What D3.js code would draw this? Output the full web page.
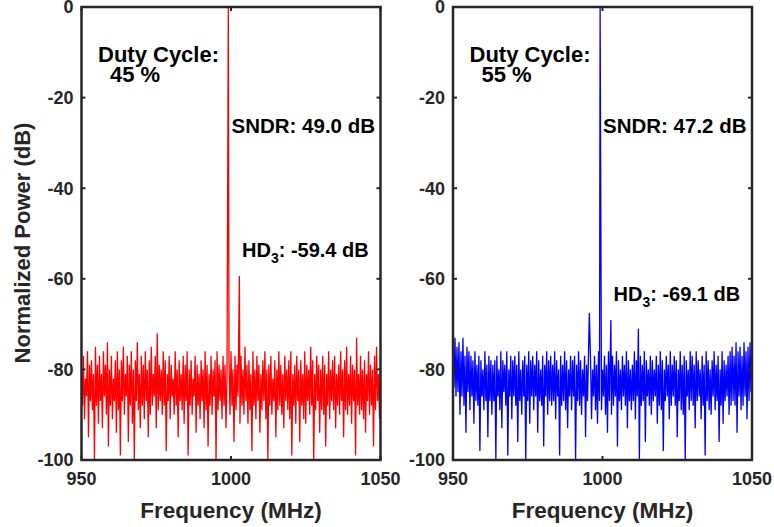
<!DOCTYPE html>
<html>
<head>
<meta charset="utf-8">
<script src="https://cdn.jsdelivr.net/npm/d3@7"></script>
<style>
  body { margin: 0; background: #fff; }
  svg { display: block; }
</style>
</head>
<body>
<div id="plot"></div>
<script>
var TEXTFONT = 'Liberation Sans, Arial, Helvetica, sans-serif';
var INK = '#262626';

// frequency grid of the FFT bins (MHz)
var F_START = 950;
var F_STEP = 1 / 3;

var xTicks = [950, 1000, 1050];
var yTicks = [0, -20, -40, -60, -80, -100];

// noise floor, 45 % duty cycle (dB)
var noise45 = [
  -80,-88,-77,-91,-82,-86,-76,-95,-79,-87,-78,-89,-81,-100,-75,-88,-79,-92,-77,-87,
  -81,-93,-76,-86,-79,-90,-74,-97,-80,-88,-77,-91,-82,-87,-78,-94,-76,-89,-80,-99,
  -78,-87,-75,-90,-81,-86,-77,-96,-79,-88,-76,-92,-80,-100,-78,-87,-74,-89,-81,-93,
  -77,-88,-79,-91,-76,-87,-80,-95,-78,-90,-75,-88,-81,-86,-77,-93,-72,-89,-79,-87,
  -80,-90,-76,-88,-78,-98,-81,-87,-77,-91,-79,-86,-82,-90,-76,-88,-80,-95,-78,-87,
  -81,-89,-77,-92,-79,-87,-76,-99,-80,-88,-78,-90,-82,-86,-77,-94,-79,-88,-81,-91,
  -78,-87,-80,-93,-76,-89,-79,-97,-81,-88,-77,-90,-80,-86,-78,-100,-76,-89,-79,-87,
  -80,-91,-77,-88,-79,-93,-81,-87,-78,-90,-76,-88,-80,-96,-77,-89,-79,-86,-81,-92,
  -77,-88,-80,-90,-75,-87,-79,-92,-78,-89,-81,-98,-76,-88,-80,-91,-77,-87,-79,-94,
  -81,-89,-78,-87,-76,-91,-80,-100,-79,-88,-77,-90,-82,-87,-78,-95,-80,-89,-76,-88,
  -79,-90,-81,-93,-77,-87,-80,-89,-78,-91,-76,-99,-81,-88,-79,-92,-77,-87,-80,-96,
  -78,-88,-81,-91,-76,-92,-79,-87,-80,-90,-75,-88,-78,-100,-81,-89,-77,-87,-79,-94,
  -80,-89,-77,-90,-79,-97,-81,-88,-76,-91,-80,-87,-78,-89,-77,-93,-81,-88,-79,-90,
  -76,-87,-80,-95,-78,-89,-75,-90,-81,-88,-77,-92,-79,-87,-80,-99,-73,-88,-81,-90,
  -77,-89,-80,-91,-78,-94,-81,-87,-76,-90,-79,-88,-80,-97,-77,-89,-75,-87,-81,-91,
  -79
];

// noise floor, 55 % duty cycle (dB)
var noise55 = [
  -74,-84,-73,-86,-75,-85,-74,-90,-76,-86,-73,-88,-77,-94,-75,-85,-76,-89,-77,-86,
  -78,-92,-76,-87,-79,-88,-77,-98,-78,-86,-80,-89,-76,-87,-79,-95,-77,-87,-78,-90,
  -79,-87,-78,-100,-77,-86,-80,-89,-76,-93,-78,-85,-79,-88,-76,-99,-80,-86,-77,-91,
  -78,-86,-77,-88,-79,-96,-76,-87,-80,-90,-78,-86,-77,-100,-79,-87,-76,-92,-78,-86,
  -77,-89,-79,-86,-76,-94,-78,-87,-80,-88,-77,-97,-79,-86,-76,-90,-78,-87,-77,-88,
  -79,-87,-76,-91,-78,-86,-80,-99,-77,-88,-79,-87,-76,-89,-78,-93,-80,-86,-77,-89,
  -78,-86,-77,-100,-79,-87,-76,-88,-78,-90,-80,-86,-77,-95,-79,-87,-76,-88,-78,-91,
  -80,-86,-77,-89,-79,-92,-76,-87,-78,-89,-80,-86,-77,-90,-79,-94,-76,-87,-78,-90,
  -77,-88,-79,-86,-76,-97,-78,-87,-80,-89,-77,-86,-79,-88,-76,-93,-78,-87,-80,-89,
  -79,-87,-76,-91,-78,-86,-71,-100,-77,-88,-79,-87,-76,-96,-78,-86,-80,-88,-77,-90,
  -78,-87,-80,-86,-77,-92,-79,-88,-76,-89,-78,-98,-80,-87,-77,-86,-79,-91,-76,-88,
  -79,-86,-77,-88,-78,-95,-80,-87,-76,-89,-79,-90,-77,-100,-78,-86,-80,-89,-76,-87,
  -77,-88,-79,-93,-76,-87,-78,-86,-80,-91,-77,-88,-79,-99,-76,-87,-78,-89,-80,-90,
  -78,-86,-76,-89,-79,-87,-77,-96,-80,-88,-76,-92,-78,-87,-79,-86,-77,-90,-76,-88,
  -75,-87,-77,-88,-74,-94,-76,-86,-75,-89,-77,-88,-74,-86,-76,-91,-75,-87,-74,-85,
  -76
];

// tones sitting on top of the noise: carrier and spurs
var tones45 = [ { 'f' : 999.1, 'p' : 0 }, { 'f' : 1002.8, 'p' : -59.4 } ];
var tones55 = [ { 'f' : 995.6, 'p' : -67.5 }, { 'f' : 999.2, 'p' : 0 }, { 'f' : 1002.8, 'p' : -69.1 } ];

var PANELS = [
  { 'left' : 81.5, 'right' : 380.5, 'noise' : noise45, 'tones' : tones45, 'color' : '#ff0000',
    'duty' : '45 %', 'sndr' : 'SNDR: 49.0 dB', 'hd3' : ': -59.4 dB', 'hd3y' : 257, 'ylabel' : true },
  { 'left' : 453, 'right' : 752, 'noise' : noise55, 'tones' : tones55, 'color' : '#0000ff',
    'duty' : '55 %', 'sndr' : 'SNDR: 47.2 dB', 'hd3' : ': -69.1 dB', 'hd3y' : 301, 'ylabel' : false }
];
var TOP = 7;
var BOTTOM = 460;

/** Build the spectrum points from noise bins and tones. */
function makeSeries(noise, tones) {
    var series = noise.map(function (p, i) {
        return { 'f' : F_START + i * F_STEP, 'p' : p };
    });
    tones.forEach(function (t) {
        var idx = Math.round((t.f - F_START) / F_STEP);
        series[idx] = { 'f' : t.f, 'p' : t.p };
    });
    return series;
};

function drawPanel(svg, cfg) {
    var x = d3.scaleLinear().domain([950, 1050]).range([cfg.left, cfg.right]);
    var y = d3.scaleLinear().domain([-100, 0]).range([BOTTOM, TOP]);
    var grp = svg.append('g').style('font-family', TEXTFONT);

    var clipId = 'clip' + Math.round(cfg.left);
    grp.append('clipPath').attr('id', clipId).append('rect')
        .attr('x', cfg.left).attr('y', TOP).attr('width', cfg.right - cfg.left).attr('height', BOTTOM - TOP);

    var line = d3.line().x(function (d) { return x(d.f); }).y(function (d) { return y(d.p); });
    grp.append('path').datum(makeSeries(cfg.noise, cfg.tones))
        .attr('d', line).attr('fill', 'none').attr('stroke', cfg.color)
        .attr('stroke-width', 1.3).attr('stroke-linejoin', 'miter')
        .attr('clip-path', 'url(#' + clipId + ')');

    // inward ticks on all four sides
    var tk = 4;
    xTicks.forEach(function (v) {
        grp.append('line').attr('x1', x(v)).attr('x2', x(v)).attr('y1', BOTTOM).attr('y2', BOTTOM - tk).attr('stroke', INK).attr('stroke-width', 2);
        grp.append('line').attr('x1', x(v)).attr('x2', x(v)).attr('y1', TOP).attr('y2', TOP + tk).attr('stroke', INK).attr('stroke-width', 2);
        grp.append('text').attr('x', x(v)).attr('y', 485).attr('text-anchor', 'middle')
            .style('font-size', '18px').style('font-weight', 'bold').attr('fill', INK).text(v);
    });
    yTicks.forEach(function (v) {
        grp.append('line').attr('x1', cfg.left).attr('x2', cfg.left + tk).attr('y1', y(v)).attr('y2', y(v)).attr('stroke', INK).attr('stroke-width', 2);
        grp.append('line').attr('x1', cfg.right).attr('x2', cfg.right - tk).attr('y1', y(v)).attr('y2', y(v)).attr('stroke', INK).attr('stroke-width', 2);
        grp.append('text').attr('x', cfg.left - 8).attr('y', y(v)).attr('dy', '0.35em').attr('text-anchor', 'end')
            .style('font-size', '18px').style('font-weight', 'bold').attr('fill', INK).text(v);
    });

    grp.append('rect').attr('x', cfg.left).attr('y', TOP).attr('width', cfg.right - cfg.left).attr('height', BOTTOM - TOP)
        .attr('fill', 'none').attr('stroke', INK).attr('stroke-width', 2.5);

    grp.append('text').attr('x', (cfg.left + cfg.right) / 2).attr('y', 518).attr('text-anchor', 'middle')
        .style('font-size', '22.5px').style('font-weight', 'bold').attr('fill', INK).text('Frequency (MHz)');

    var ann = grp.append('g').style('font-weight', 'bold').attr('fill', '#000');
    ann.append('text').attr('x', cfg.left + 16.5).attr('y', 62).style('font-size', '22px').text('Duty Cycle:');
    ann.append('text').attr('x', cfg.left + 28.5).attr('y', 82).style('font-size', '22px').text(cfg.duty);
    ann.append('text').attr('x', cfg.left + 150).attr('y', 133).style('font-size', '20.5px').text(cfg.sndr);
    var hd = ann.append('text').attr('x', cfg.left + 160.5).attr('y', cfg.hd3y).style('font-size', '20px');
    hd.append('tspan').text('HD');
    hd.append('tspan').attr('dy', 6).style('font-size', '14px').text('3');
    hd.append('tspan').attr('dy', -6).text(cfg.hd3);

    if (cfg.ylabel) {
        grp.append('text').attr('transform', 'translate(30,243) rotate(-90)')
            .attr('text-anchor', 'middle').style('font-size', '22px').style('font-weight', 'bold')
            .attr('fill', INK).text('Normalized Power (dB)');
    }
};

window.addEventListener('DOMContentLoaded', function () {
    var svg = d3.select('#plot').append('svg').attr('width', 774).attr('height', 527);
    PANELS.forEach(function (cfg) { drawPanel(svg, cfg); });
});
</script>
</body>
</html>
